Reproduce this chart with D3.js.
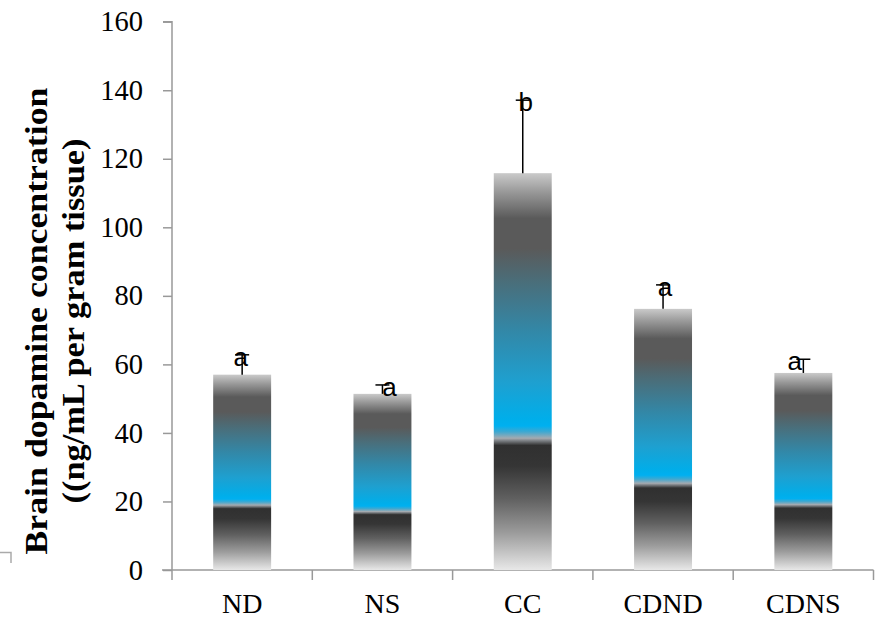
<!DOCTYPE html>
<html>
<head>
<meta charset="utf-8">
<script src="https://cdn.jsdelivr.net/npm/d3@7"></script>
<style>
  body { margin: 0; background: #fff; }
  svg { display: block; }
</style>
</head>
<body>
<div id="chart"></div>
<script>
"use strict";

const groups = ['ND', 'NS', 'CC', 'CDND', 'CDNS'];
const dopamine = [57, 51.4, 115.8, 76.2, 57.5];
const errors = [5.8, 2.6, 21.3, 7, 4];
const letters = ['a', 'a', 'b', 'a', 'a'];
const yTicks = [0, 20, 40, 60, 80, 100, 120, 140, 160];

const width = 879, height = 620;
const margin = { top: 22, right: 5, bottom: 50, left: 172 };

const svg = d3.select('#chart').append('svg')
  .attr('width', width)
  .attr('height', height);

// bar gradient, same for every bar
const grad = svg.append('defs').append('linearGradient')
  .attr('id', 'barFill')
  .attr('x1', 0).attr('y1', 0).attr('x2', 0).attr('y2', 1);
[
  [0, '#cacaca'], [0.046, '#9a9a9a'], [0.114, '#5a5a5a'], [0.19, '#5a5a5a'],
  [0.274, '#4a6e7a'], [0.40, '#3288a8'], [0.527, '#1ea0d0'], [0.62, '#00aeea'],
  [0.637, '#00b0f0'], [0.652, '#40a8d0'], [0.668, '#a4aab0'], [0.686, '#303030'],
  [0.738, '#353535'], [0.82, '#606060'], [0.907, '#9c9c9c'], [1, '#e8e8e8']
].forEach(([o, c]) => grad.append('stop').attr('offset', o).attr('stop-color', c));

const x = d3.scaleBand()
  .domain(groups)
  .range([margin.left, 873.5])
  .padding(0);

const y = d3.scaleLinear()
  .domain([0, 160])
  .range([570, 21.7]);

const barW = x.bandwidth() * 0.413;

// y axis
const yAxis = svg.append('g')
  .attr('transform', `translate(${margin.left},0)`)
  .call(d3.axisLeft(y).tickValues(yTicks).tickSize(9).tickPadding(20));
yAxis.select('.domain').attr('stroke', '#999').attr('stroke-width', 1.5).attr('d', `M-9,${y(160)}H0V${y(0)}`);
yAxis.selectAll('.tick line').attr('stroke', '#999').attr('stroke-width', 1.5);
yAxis.selectAll('.tick text')
  .attr('font-family', '"Liberation Serif", "Times New Roman", serif')
  .attr('font-size', 28.5)
  .attr('fill', '#000');

// x axis
const xAxis = svg.append('g')
  .attr('transform', `translate(0,${y(0)})`)
  .call(d3.axisBottom(x).tickSize(0).tickPadding(23));
xAxis.select('.domain').remove();
xAxis.append('path')
  .attr('d', `M${margin.left - 10},0H${x.range()[1]}`)
  .attr('stroke', '#999').attr('stroke-width', 1.5).attr('fill', 'none');
xAxis.selectAll('.tickmark')
  .data(groups.concat(['end']))
  .enter().append('line')
    .attr('x1', (d, i) => i < groups.length ? x(d) : x.range()[1])
    .attr('x2', (d, i) => i < groups.length ? x(d) : x.range()[1])
    .attr('y1', 0).attr('y2', 10)
    .attr('stroke', '#999').attr('stroke-width', 1.5);
xAxis.selectAll('.tick text')
  .attr('font-family', '"Liberation Serif", "Times New Roman", serif')
  .attr('font-size', 28)
  .attr('fill', '#000');

// bars
svg.append('g')
  .selectAll('rect')
  .data(groups)
  .enter().append('rect')
    .attr('x', d => x(d) + (x.bandwidth() - barW) / 2)
    .attr('y', (d, i) => y(dopamine[i]))
    .attr('width', barW)
    .attr('height', (d, i) => y(0) - y(dopamine[i]))
    .attr('fill', 'url(#barFill)');

// error bars (upper only)
const cx = d => x(d) + x.bandwidth() / 2;
const err = svg.append('g').attr('stroke', '#000').attr('stroke-width', 1.5);
err.selectAll('.stem')
  .data(groups)
  .enter().append('line')
    .attr('x1', cx).attr('x2', cx)
    .attr('y1', (d, i) => y(dopamine[i]))
    .attr('y2', (d, i) => y(dopamine[i] + errors[i]));
err.selectAll('.cap')
  .data(groups)
  .enter().append('line')
    .attr('x1', d => cx(d) - 7).attr('x2', d => cx(d) + 7)
    .attr('y1', (d, i) => y(dopamine[i] + errors[i]))
    .attr('y2', (d, i) => y(dopamine[i] + errors[i]));

// significance letters
const nudge = [-1.5, 7, 3, 2, -8.5];
svg.append('g')
  .selectAll('text')
  .data(groups)
  .enter().append('text')
    .attr('x', (d, i) => cx(d) + nudge[i])
    .attr('y', (d, i) => y(dopamine[i] + errors[i]) + 11)
    .attr('text-anchor', 'middle')
    .attr('font-family', '"Liberation Sans", Arial, sans-serif')
    .attr('font-size', 26)
    .attr('fill', '#000')
    .text((d, i) => letters[i]);

// y title
const title = svg.append('text')
  .attr('transform', 'translate(0,321) rotate(-90)')
  .attr('text-anchor', 'middle')
  .attr('font-family', '"Liberation Serif", "Times New Roman", serif')
  .attr('font-weight', 'bold')
  .attr('font-size', 31);
title.append('tspan').attr('x', 0).attr('y', 47).attr('textLength', 467).attr('lengthAdjust', 'spacingAndGlyphs')
  .text('Brain dopamine concentration');
title.append('tspan').attr('x', 0).attr('y', 84).attr('textLength', 365).attr('lengthAdjust', 'spacingAndGlyphs')
  .text('((ng/mL per gram tissue)');

// stray corner mark left of the axis
svg.append('path')
  .attr('d', 'M0,552.5H11V563')
  .attr('fill', 'none')
  .attr('stroke', '#aaa')
  .attr('stroke-width', 1.5);
</script>
</body>
</html>
